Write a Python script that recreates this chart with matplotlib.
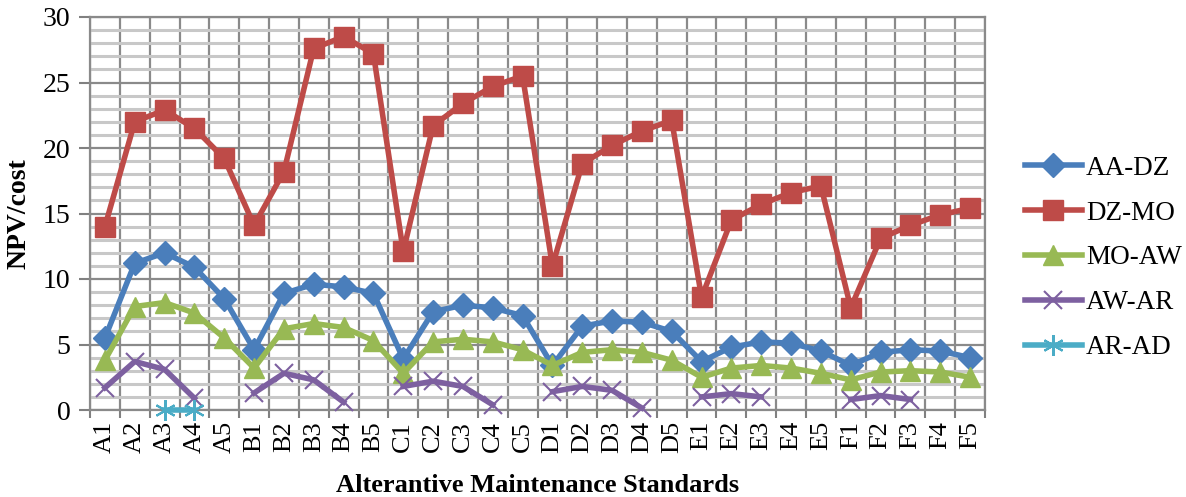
import numpy as np
import matplotlib
matplotlib.use("Agg")
import matplotlib.pyplot as plt
from matplotlib.ticker import MultipleLocator, FixedLocator

plt.rcParams['font.family'] = ['Liberation Serif', 'DejaVu Serif']

categories = [f"{g}{i}" for g in "ABCDEF" for i in range(1, 6)]

aa_dz = [5.5, 11.2, 12.0, 10.9, 8.5,
         4.6, 8.9, 9.6, 9.4, 8.9,
         3.9, 7.5, 8.0, 7.8, 7.2,
         3.4, 6.4, 6.8, 6.7, 6.0,
         3.7, 4.8, 5.2, 5.1, 4.5,
         3.4, 4.4, 4.6, 4.5, 4.0]

dz_mo = [14.0, 22.0, 22.9, 21.5, 19.2,
         14.1, 18.2, 27.6, 28.5, 27.2,
         12.1, 21.7, 23.4, 24.7, 25.5,
         11.0, 18.8, 20.2, 21.3, 22.1,
         8.6, 14.5, 15.7, 16.6, 17.1,
         7.8, 13.1, 14.1, 14.9, 15.4]

mo_aw = [3.8, 7.9, 8.2, 7.4, 5.5,
         3.2, 6.2, 6.6, 6.3, 5.3,
         2.8, 5.2, 5.4, 5.2, 4.6,
         3.4, 4.4, 4.6, 4.4, 3.8,
         2.5, 3.2, 3.4, 3.2, 2.8,
         2.3, 2.9, 3.0, 2.9, 2.5]

nan = np.nan
aw_ar = [1.7, 3.7, 3.1, 0.9, nan,
         1.3, 2.8, 2.3, 0.6, nan,
         1.8, 2.2, 1.8, 0.4, nan,
         1.4, 1.8, 1.5, 0.15, nan,
         1.0, 1.25, 1.0, nan, nan,
         0.8, 1.1, 0.8, nan, nan]

ar_ad = [nan, nan, 0.0, 0.0] + [nan] * 26

series = [
    ("AA-DZ", aa_dz, "#4A7EBB", "D", 12),
    ("DZ-MO", dz_mo, "#BE4B48", "s", 14),
    ("MO-AW", mo_aw, "#98B954", "^", 14),
    ("AW-AR", aw_ar, "#7D60A0", "x", 13),
    ("AR-AD", ar_ad, "#4BACC6", (6, 2, 0), 15),
]

fig = plt.figure(figsize=(11.86, 4.97), dpi=100)
ax = fig.add_axes([90 / 1186, 1 - 410 / 497, 895 / 1186, 393 / 497])

x = np.arange(len(categories))
for name, vals, col, mk, ms in series:
    if mk in ("x",) or isinstance(mk, tuple):
        ax.plot(x, vals, color=col, lw=4, marker=mk, ms=ms, mew=1.5,
                mec=col, label=name, zorder=3, clip_on=False)
    else:
        ax.plot(x, vals, color=col, lw=4, marker=mk, ms=ms, mfc=col,
                mec=col, label=name, zorder=3)

ax.set_xlim(-0.5, len(categories) - 0.5)
ax.set_ylim(0, 30)

ax.yaxis.set_major_locator(MultipleLocator(5))
ax.yaxis.set_minor_locator(MultipleLocator(1))
ax.xaxis.set_major_locator(FixedLocator(x))
ax.xaxis.set_minor_locator(FixedLocator(np.arange(-0.5, len(categories), 1)))
ax.set_xticklabels(categories, rotation=90, fontsize=19)
ax.tick_params(axis='x', which='major', length=0, pad=8)
ax.tick_params(axis='x', which='minor', length=6, color='#808080', width=1.5)
ax.tick_params(axis='y', which='major', length=8, color='#808080', width=1.5,
               labelsize=20, pad=6)
ax.tick_params(axis='y', which='minor', length=0)

ax.grid(axis='y', which='minor', color='#C8C8C8', lw=2.2, zorder=0)
ax.grid(axis='y', which='major', color='#8A8A8A', lw=1.6, zorder=1)
ax.grid(axis='x', which='minor', color='#8A8A8A', lw=1.6, zorder=1)
ax.set_axisbelow(True)
for s in ax.spines.values():
    s.set_color('#8A8A8A')
    s.set_linewidth(1.6)

ax.set_ylabel("NPV/cost", fontsize=20, fontweight='bold', labelpad=8)
ax.set_xlabel("Alterantive Maintenance Standards", fontsize=19,
              fontweight='bold', labelpad=15)

leg = fig.legend(loc='center left', bbox_to_anchor=(1025 / 1186, 1 - 258 / 497),
                 frameon=False, fontsize=19.5, handlelength=2.1, borderpad=0,
                 borderaxespad=0, handletextpad=0.15, labelspacing=0.73)

fig.savefig("out.png", dpi=100)
